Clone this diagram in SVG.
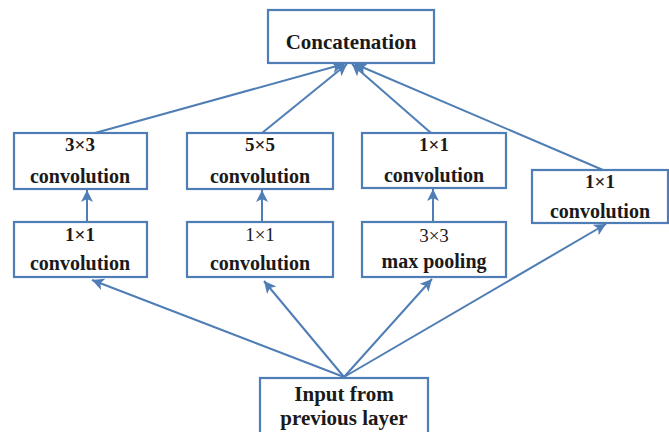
<svg xmlns="http://www.w3.org/2000/svg" width="669" height="432" viewBox="0 0 669 432">
  <style>
    .box { fill: #ffffff; stroke: #4f7db5; stroke-width: 2.2; }
    .lbl { font-family: "Liberation Serif", "Times New Roman", serif; font-weight: bold; fill: #1a1a1a; text-anchor: middle; }
    .lt { font-weight: normal; }
    .edge { stroke: #4f7db5; stroke-width: 2; fill: none; marker-end: url(#arrow); }
  </style>
  <defs>
    <marker id="arrow" markerUnits="userSpaceOnUse" markerWidth="14" markerHeight="12" refX="12" refY="6" orient="auto">
      <path d="M0,0 L12,6 L0,12 L3,6 Z" fill="#4f7db5"/>
    </marker>
  </defs>
  <rect width="669" height="432" fill="#ffffff"/>

  <g id="connectors">
    <!-- input fan-out -->
    <line class="edge" x1="344" y1="377" x2="92" y2="280"/>
    <line class="edge" x1="344" y1="377" x2="264" y2="281"/>
    <line class="edge" x1="344" y1="377" x2="432" y2="279"/>
    <line class="edge" x1="344" y1="377" x2="606" y2="224"/>
    <!-- inner branch steps -->
    <line class="edge" x1="87" y1="222" x2="87" y2="190"/>
    <line class="edge" x1="262" y1="222" x2="262" y2="190"/>
    <line class="edge" x1="433" y1="222" x2="433" y2="189"/>
    <!-- merge into concatenation -->
    <line class="edge" x1="95" y1="133" x2="344" y2="64"/>
    <line class="edge" x1="262" y1="133" x2="347" y2="64"/>
    <line class="edge" x1="431" y1="133" x2="352" y2="64"/>
    <line class="edge" x1="603" y1="170" x2="355" y2="64"/>
  </g>

  <g id="concat">
    <rect class="box" x="268" y="10" width="166" height="53"/>
    <text class="lbl" x="351" y="49" font-size="21">Concatenation</text>
  </g>

  <g id="conv3x3">
    <rect class="box" x="14" y="133" width="133" height="56"/>
    <text class="lbl" x="80" y="151" font-size="19">3×3</text>
    <text class="lbl" x="80" y="183" font-size="20">convolution</text>
  </g>

  <g id="conv5x5">
    <rect class="box" x="187" y="133" width="146" height="56"/>
    <text class="lbl" x="260" y="151" font-size="19">5×5</text>
    <text class="lbl" x="260" y="183" font-size="20">convolution</text>
  </g>

  <g id="conv1x1_pool">
    <rect class="box" x="362" y="133" width="144" height="55"/>
    <text class="lbl" x="434" y="151" font-size="19">1×1</text>
    <text class="lbl" x="434" y="182" font-size="20">convolution</text>
  </g>

  <g id="conv1x1_direct">
    <rect class="box" x="532" y="170" width="136" height="53"/>
    <text class="lbl" x="600" y="188" font-size="19">1×1</text>
    <text class="lbl" x="600" y="218" font-size="20">convolution</text>
  </g>

  <g id="reduce3x3">
    <rect class="box" x="14" y="222" width="133" height="55"/>
    <text class="lbl" x="80" y="241" font-size="19">1×1</text>
    <text class="lbl" x="80" y="270" font-size="20">convolution</text>
  </g>

  <g id="reduce5x5">
    <rect class="box" x="187" y="222" width="146" height="55"/>
    <text class="lbl lt" x="260" y="241" font-size="19">1×1</text>
    <text class="lbl" x="260" y="270" font-size="20">convolution</text>
  </g>

  <g id="maxpool">
    <rect class="box" x="362" y="222" width="144" height="55"/>
    <text class="lbl lt" x="434" y="242" font-size="19">3×3</text>
    <text class="lbl" x="434" y="268" font-size="20">max pooling</text>
  </g>

  <g id="input">
    <rect class="box" x="260" y="378" width="168" height="60"/>
    <text class="lbl" x="344" y="401" font-size="21">Input from</text>
    <text class="lbl" x="344" y="425" font-size="21">previous layer</text>
  </g>
</svg>
